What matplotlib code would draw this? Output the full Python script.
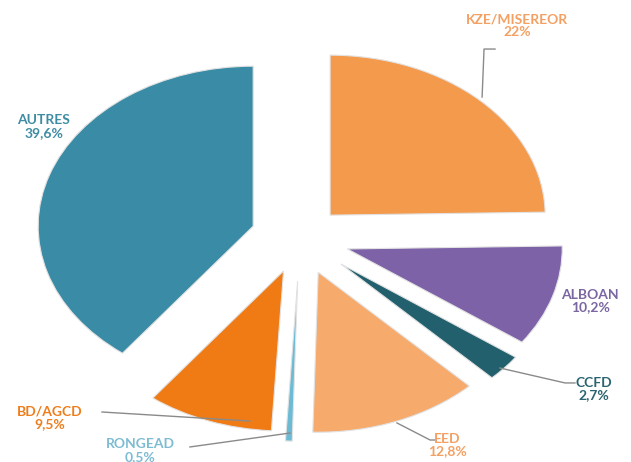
import matplotlib
matplotlib.use('Agg')
import matplotlib.pyplot as plt

# data
labels = ['KZE/MISEREOR', 'ALBOAN', 'CCFD', 'EED', 'RONGEAD', 'BD/AGCD', 'AUTRES']
pct_text = ['22%', '10,2%', '2,7%', '12,8%', '0,5%', '9,5%', '39,6%']
# slice sizes as drawn (the KZE slice is drawn as a quarter, larger than its 22% label)
values = [24.7, 10.2, 2.7, 12.8, 0.5, 9.5, 39.6]

colors = ['#F49A4C', '#7E62A8', '#23606E', '#F6AA6C', '#6CBAD4', '#F07B14', '#3A8BA5']
text_colors = ['#F4A062', '#7A66A0', '#2A6470', '#F4A062', '#7DBCD2', '#EE7D1C', '#3E8CA3']
explode = [0.2, 0.23, 0.25, 0.23, 0.27, 0.22, 0.23]

# label placement (data coords) and leader lines
label_pos = [(1.009, 1.325), (1.349, -0.394), (1.367, -0.944), (0.684, -1.294),
             (-0.744, -1.33), (-1.163, -1.125), (-1.191, 0.694)]
leaders = [
    [(0.847, 0.881), (0.856, 1.181), (0.907, 1.181)],
    None,
    [(0.930, -0.8125), (1.233, -0.906), (1.279, -0.906)],
    [(0.451, -1.156), (0.605, -1.2625), (0.628, -1.2625)],
    [(-0.047, -1.219), (-0.512, -1.306)],
    [(-0.233, -1.144), (-0.921, -1.0875)],
    None,
]

fig = plt.figure(figsize=(6.31, 4.62), dpi=100)
ax = fig.add_axes([0, 0, 1, 1])

ax.pie(values, colors=colors, explode=explode, startangle=90, counterclock=False,
       wedgeprops=dict(edgecolor='#E2E2E2', linewidth=0.8))

# stretch the pie horizontally like the original
ax.set_aspect('auto')
ax.set_xlim(-300 / 215, 331 / 215)
ax.set_ylim(-224 / 160, 238 / 160)
ax.axis('off')

for i, lab in enumerate(labels):
    if leaders[i] is not None:
        xs = [p[0] for p in leaders[i]]
        ys = [p[1] for p in leaders[i]]
        ax.plot(xs, ys, color='#8A8A8A', lw=1.0, zorder=1)
    ax.text(label_pos[i][0], label_pos[i][1], lab + '\n' + pct_text[i],
            ha='center', va='center', fontsize=10, fontweight='bold',
            family=['Lato', 'DejaVu Sans'], color=text_colors[i], linespacing=1.1)

fig.savefig('out.png', dpi=100)
